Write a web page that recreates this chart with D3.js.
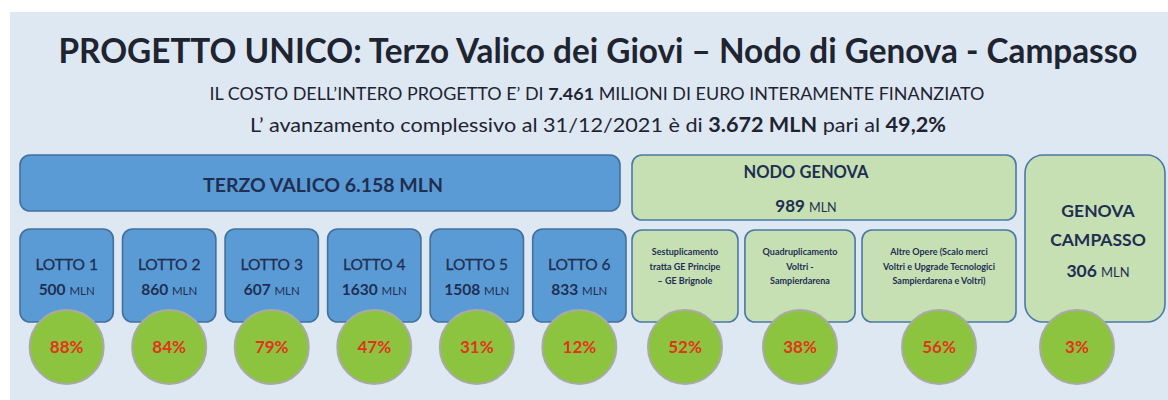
<!DOCTYPE html>
<html lang="it">
<head>
<meta charset="UTF-8" />
<style>
  body { margin: 0; background: #fff; }
  svg text { font-family: Lato, "Open Sans", sans-serif; }
</style>
</head>
<body>
<svg width="1168" height="400"></svg>
<script src="https://d3js.org/d3.v7.min.js"></script>
<script>
// ---- data ----
var lotti = ["LOTTO 1", "LOTTO 2", "LOTTO 3", "LOTTO 4", "LOTTO 5", "LOTTO 6"];
var lottiCost = [500, 860, 607, 1630, 1508, 833];
var lottiPct = [88, 84, 79, 47, 31, 12];

var nodoOpere = [
  ["Sestuplicamento", "tratta GE Principe", "– GE Brignole"],
  ["Quadruplicamento", "Voltri -", "Sampierdarena"],
  ["Altre Opere (Scalo merci", "Voltri e Upgrade Tecnologici", "Sampierdarena e Voltri)"]
];
var nodoPct = [52, 38, 56];

var gruppi = ["TERZO VALICO", "NODO GENOVA", "GENOVA CAMPASSO"];
var gruppiCost = ["6.158", 989, 306];
var campassoPct = 3;

var costoTotale = "7.461";
var avanzamento = "3.672";
var avanzamentoPct = "49,2%";
var dataRif = "31/12/2021";

// ---- layout ----
var svg = d3.select("svg");
var navy = "#1f2f52", blue = "#5b9bd5", blueStroke = "#41719c",
    green = "#c6e0b4", greenStroke = "#4a78a8", dot = "#8dc43f", red = "#e0341c";

svg.append("rect").attr("x", 10).attr("y", 12).attr("width", 1158).attr("height", 388)
  .attr("fill", "#dee8f3");

// header
svg.append("text").attr("x", 598).attr("y", 63).attr("text-anchor", "middle")
  .attr("font-size", 34).attr("font-weight", 700).attr("fill", "#1e2430")
  .attr("textLength", 1079).attr("lengthAdjust", "spacingAndGlyphs")
  .text("PROGETTO UNICO: Terzo Valico dei Giovi – Nodo di Genova - Campasso");

var l2 = svg.append("text").attr("x", 597).attr("y", 100).attr("text-anchor", "middle")
  .attr("font-size", 17).attr("fill", "#1e2430")
  .attr("textLength", 775).attr("lengthAdjust", "spacingAndGlyphs");
l2.append("tspan").text("IL COSTO DELL’INTERO PROGETTO E’ DI ");
l2.append("tspan").attr("font-weight", 700).text(costoTotale);
l2.append("tspan").text(" MILIONI DI EURO INTERAMENTE FINANZIATO");

var l3 = svg.append("text").attr("x", 598).attr("y", 132).attr("text-anchor", "middle")
  .attr("font-size", 20).attr("fill", "#1e2430")
  .attr("textLength", 696).attr("lengthAdjust", "spacingAndGlyphs");
l3.append("tspan").text("L’ avanzamento complessivo al " + dataRif + " è di ");
l3.append("tspan").attr("font-weight", 700).text(avanzamento + " MLN");
l3.append("tspan").text(" pari al ");
l3.append("tspan").attr("font-weight", 700).text(avanzamentoPct);

function box(x, y, w, h, r, fill, stroke) {
  svg.append("rect").attr("x", x).attr("y", y).attr("width", w).attr("height", h)
    .attr("rx", r).attr("fill", fill).attr("stroke", stroke).attr("stroke-width", 1.6);
}
function costText(x, y, val, size) {
  var t = svg.append("text").attr("x", x).attr("y", y).attr("text-anchor", "middle")
    .attr("fill", navy);
  t.append("tspan").attr("font-size", size).attr("font-weight", 700).text(val + " ");
  t.append("tspan").attr("font-size", size * 0.74).text("MLN");
}
function circle(cx, cy, pct) {
  svg.append("circle").attr("cx", cx).attr("cy", cy).attr("r", 37)
    .attr("fill", dot).attr("stroke", "#a9aaa6").attr("stroke-width", 2);
  svg.append("text").attr("x", cx).attr("y", cy + 6).attr("text-anchor", "middle")
    .attr("font-size", 17).attr("font-weight", 700).attr("fill", red)
    .text(pct + "%");
}

// group headers
box(20, 155, 600, 56, 10, blue, blueStroke);
svg.append("text").attr("x", 323).attr("y", 192).attr("text-anchor", "middle")
  .attr("font-size", 19.5).attr("font-weight", 700).attr("fill", navy)
  .text(gruppi[0] + " " + gruppiCost[0] + " MLN");

box(632, 155, 384, 65, 10, green, greenStroke);
svg.append("text").attr("x", 806).attr("y", 178).attr("text-anchor", "middle")
  .attr("font-size", 16.5).attr("font-weight", 700).attr("fill", navy).text(gruppi[1]);
costText(806, 212, gruppiCost[1], 17);

box(1025, 155, 140, 167, 18, green, greenStroke);
svg.append("text").attr("x", 1098).attr("y", 217).attr("text-anchor", "middle")
  .attr("font-size", 17.5).attr("font-weight", 700).attr("fill", navy).text("GENOVA");
svg.append("text").attr("x", 1098).attr("y", 246).attr("text-anchor", "middle")
  .attr("font-size", 17.5).attr("font-weight", 700).attr("fill", navy).text("CAMPASSO");
costText(1098, 277, gruppiCost[2], 17.5);
circle(1077, 347, campassoPct);

// lotti
var xLotti = d3.scaleBand().domain(lotti).range([20, 626]).paddingInner(0.09);
lotti.forEach(function (d, i) {
  var x = xLotti(d), w = xLotti.bandwidth(), cx = x + w / 2;
  box(x, 229, w, 93, 10, blue, blueStroke);
  svg.append("text").attr("x", cx).attr("y", 270).attr("text-anchor", "middle")
    .attr("font-size", 15.5).attr("fill", navy).attr("stroke", navy).attr("stroke-width", 0.3)
    .text(d);
  costText(cx, 295, lottiCost[i], 15.5);
  circle(cx, 347, lottiPct[i]);
});

// nodo genova sub works
var xNodo = d3.scaleLinear().domain([0, 1]).range([632, 1016]);
var nodoSpan = [[0, 0.276], [0.294, 0.581], [0.599, 1]];
nodoOpere.forEach(function (lines, i) {
  var x0 = xNodo(nodoSpan[i][0]), x1 = xNodo(nodoSpan[i][1]), cx = (x0 + x1) / 2;
  box(x0, 230, x1 - x0, 92, 10, green, greenStroke);
  lines.forEach(function (s, j) {
    svg.append("text").attr("x", cx).attr("y", 255 + j * 14.5).attr("text-anchor", "middle")
      .attr("font-size", 9).attr("font-weight", 700).attr("fill", navy).text(s);
  });
  circle(cx, 347, nodoPct[i]);
});
</script>
</body>
</html>
